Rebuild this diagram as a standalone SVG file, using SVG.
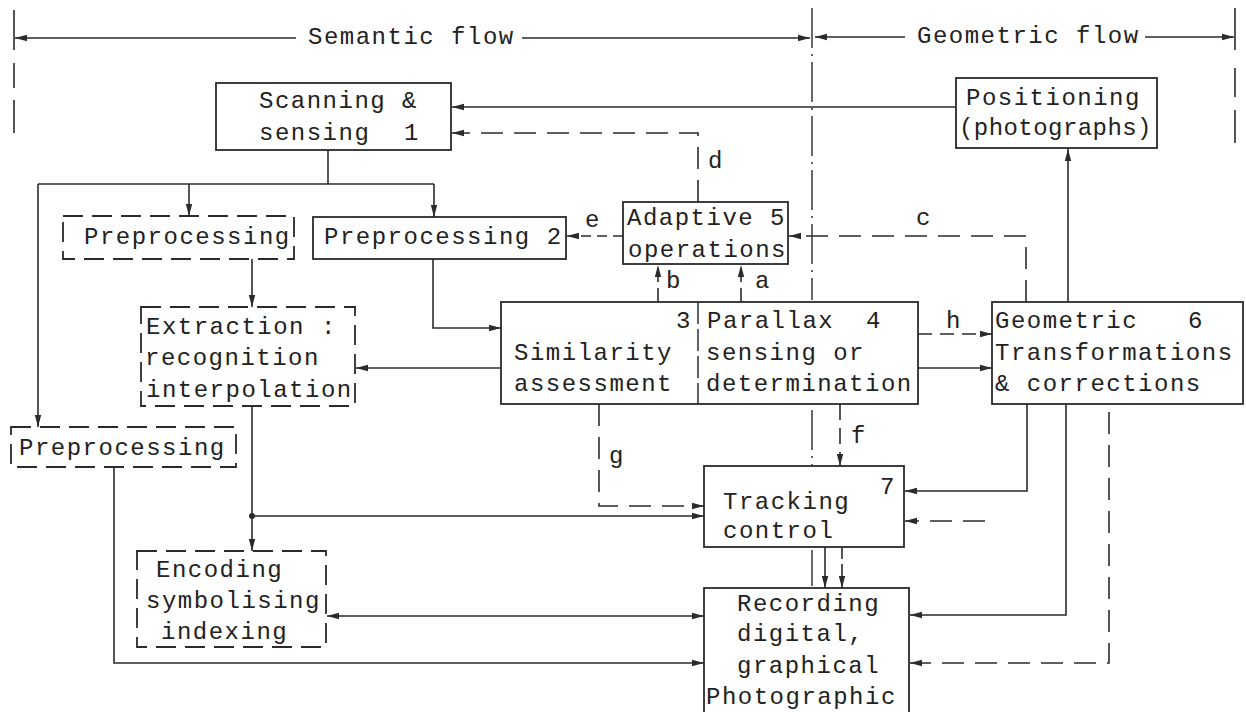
<svg xmlns="http://www.w3.org/2000/svg" width="1246" height="712" viewBox="0 0 1246 712">
<style>
.bg{fill:#ffffff}
.box{fill:none;stroke:#2b2b2b;stroke-width:1.8}
.dbox{fill:none;stroke:#2b2b2b;stroke-width:1.8;stroke-dasharray:20 9}
.ln{fill:none;stroke:#2b2b2b;stroke-width:1.6}
.dl{fill:none;stroke:#2b2b2b;stroke-width:1.6;stroke-dasharray:22 11}
.dd{fill:none;stroke:#2b2b2b;stroke-width:1.4;stroke-dasharray:40 6 2 6}
.div{fill:none;stroke:#2b2b2b;stroke-width:1.5;stroke-dasharray:22 5}
.t{font-family:"Liberation Mono","DejaVu Sans Mono",monospace;font-size:24px;letter-spacing:1.5px;fill:#222}
</style>
<defs>
<marker id="ah" viewBox="0 0 12 8" refX="12" refY="4" markerWidth="12" markerHeight="8" markerUnits="userSpaceOnUse" orient="auto-start-reverse">
<path d="M0,0.8 L12,4 L0,7.2 Z" fill="#2b2b2b"/>
</marker>
</defs>
<rect class="bg" x="0" y="0" width="1246" height="712"/>

<g id="header">
<line class="ln" x1="14" y1="10" x2="14" y2="50"/>
<line class="ln" x1="14" y1="63" x2="14" y2="88"/>
<line class="ln" x1="14" y1="100" x2="14" y2="133"/>
<path class="ln" d="M296,38 H15" marker-end="url(#ah)"/>
<path class="ln" d="M522,38 H810" marker-end="url(#ah)"/>
<path class="ln" d="M905,37 H815" marker-end="url(#ah)"/>
<path class="ln" d="M1145,37 H1234" marker-end="url(#ah)"/>
<line class="ln" x1="1235" y1="8" x2="1235" y2="50"/>
<line class="ln" x1="1235" y1="68" x2="1235" y2="97"/>
<line class="ln" x1="1235" y1="110" x2="1235" y2="143"/>
<text class="t" x="308" y="44">Semantic flow</text>
<text class="t" x="917" y="43">Geometric flow</text>
<path class="dd" d="M812,8 V300"/>
<path class="dd" d="M812,410 V465"/>
<path class="dd" d="M812,550 V586"/>
</g>

<g id="connectors">
<path class="ln" d="M956,107 H452" marker-end="url(#ah)"/>
<path class="dl" d="M698,202 V133 H452" marker-end="url(#ah)"/>
<path class="ln" d="M328,150 V184"/>
<path class="ln" d="M38,184 H434"/>
<path class="ln" d="M189,184 V216" marker-end="url(#ah)"/>
<path class="ln" d="M434,184 V217" marker-end="url(#ah)"/>
<path class="ln" d="M38,184 V427" marker-end="url(#ah)"/>
<path class="dl" style="stroke-dasharray:10 6" d="M623,236 H567" marker-end="url(#ah)"/>
<path class="dl" d="M1026,302 V236 H789" marker-end="url(#ah)"/>
<path class="dl" style="stroke-dasharray:14 6" d="M658,302 V265" marker-end="url(#ah)"/>
<path class="dl" style="stroke-dasharray:14 6" d="M741,302 V265" marker-end="url(#ah)"/>
<path class="ln" d="M252,259 V307" marker-end="url(#ah)"/>
<path class="ln" d="M433,259 V328 H501" marker-end="url(#ah)"/>
<path class="ln" d="M501,368 H356" marker-end="url(#ah)"/>
<path class="ln" d="M252,406 V551" marker-end="url(#ah)"/>
<circle cx="252" cy="516" r="3" fill="#2b2b2b"/>
<path class="ln" d="M252,516 H704" marker-end="url(#ah)"/>
<path class="ln" d="M114,467 V663 H704" marker-end="url(#ah)"/>
<path class="ln" d="M704,616 H327" marker-start="url(#ah)" marker-end="url(#ah)"/>
<path class="dl" d="M599,404 V506 H704" marker-end="url(#ah)"/>
<path class="dl" style="stroke-dasharray:16 8" d="M840,404 V466" marker-end="url(#ah)"/>
<path class="dl" style="stroke-dasharray:14 8" d="M918,334 H992" marker-end="url(#ah)"/>
<path class="ln" d="M918,368 H992" marker-end="url(#ah)"/>
<path class="ln" d="M1068,302 V149" marker-end="url(#ah)"/>
<path class="ln" d="M1027,404 V491 H905" marker-end="url(#ah)"/>
<path class="dl" d="M985,521 H905" marker-end="url(#ah)"/>
<path class="ln" d="M1066,404 V615 H910" marker-end="url(#ah)"/>
<path class="dl" d="M1109,412 V663 H910" marker-end="url(#ah)"/>
<path class="ln" d="M825,547 V588" marker-end="url(#ah)"/>
<path class="dl" style="stroke-dasharray:12 5" d="M842,547 V588" marker-end="url(#ah)"/>
<text class="t" x="708" y="168">d</text>
<text class="t" x="585" y="227">e</text>
<text class="t" x="916" y="225">c</text>
<text class="t" x="666" y="288">b</text>
<text class="t" x="755" y="288">a</text>
<text class="t" x="609" y="463">g</text>
<text class="t" x="851" y="443">f</text>
<text class="t" x="946" y="328">h</text>
</g>

<g id="n1">
<rect class="box" x="216" y="83" width="235" height="67"/>
<text class="t" x="259" y="108">Scanning &amp;</text>
<text class="t" x="259" y="140">sensing</text>
<text class="t" x="404" y="140">1</text>
</g>

<g id="positioning">
<rect class="box" x="956" y="78" width="201" height="70"/>
<text class="t" x="966" y="105">Positioning</text>
<text class="t" x="959" y="135" textLength="194" lengthAdjust="spacing">(photographs)</text>
</g>

<g id="pre-a">
<rect class="dbox" x="63" y="216" width="231" height="43"/>
<text class="t" x="84" y="244">Preprocessing</text>
</g>

<g id="n2">
<rect class="box" x="313" y="217" width="253" height="42"/>
<text class="t" x="324" y="244">Preprocessing 2</text>
</g>

<g id="n5">
<rect class="box" x="623" y="202" width="165" height="62"/>
<text class="t" x="627" y="225">Adaptive</text>
<text class="t" x="770" y="225">5</text>
<text class="t" x="628" y="257">operations</text>
</g>

<g id="n3-4">
<rect class="box" x="501" y="302" width="417" height="102"/>
<path class="div" d="M698,302 V404"/>
<text class="t" x="676" y="328">3</text>
<text class="t" x="514" y="360">Similarity</text>
<text class="t" x="514" y="391">assessment</text>
<text class="t" x="707" y="328">Parallax</text>
<text class="t" x="866" y="328">4</text>
<text class="t" x="706" y="360">sensing or</text>
<text class="t" x="706" y="391">determination</text>
</g>

<g id="n6">
<rect class="box" x="992" y="302" width="251" height="102"/>
<text class="t" x="995" y="328">Geometric</text>
<text class="t" x="1188" y="328">6</text>
<text class="t" x="995" y="360">Transformations</text>
<text class="t" x="995" y="391">&amp; corrections</text>
</g>

<g id="extraction">
<rect class="dbox" x="141" y="307" width="214" height="99"/>
<text class="t" x="146" y="334">Extraction :</text>
<text class="t" x="145" y="365">recognition</text>
<text class="t" x="146" y="397">interpolation</text>
</g>

<g id="pre-b">
<rect class="dbox" x="11" y="427" width="225" height="40"/>
<text class="t" x="19" y="455">Preprocessing</text>
</g>

<g id="n7">
<rect class="box" x="704" y="466" width="200" height="81"/>
<text class="t" x="880" y="494">7</text>
<text class="t" x="723" y="509">Tracking</text>
<text class="t" x="723" y="538">control</text>
</g>

<g id="encoding">
<rect class="dbox" x="137" y="551" width="189" height="96"/>
<text class="t" x="156" y="577">Encoding</text>
<text class="t" x="146" y="608">symbolising</text>
<text class="t" x="161" y="639">indexing</text>
</g>

<g id="recording">
<rect class="box" x="704" y="588" width="205" height="140"/>
<text class="t" x="737" y="611">Recording</text>
<text class="t" x="737" y="641">digital,</text>
<text class="t" x="737" y="673">graphical</text>
<text class="t" x="706" y="704">Photographic</text>
</g>
</svg>
